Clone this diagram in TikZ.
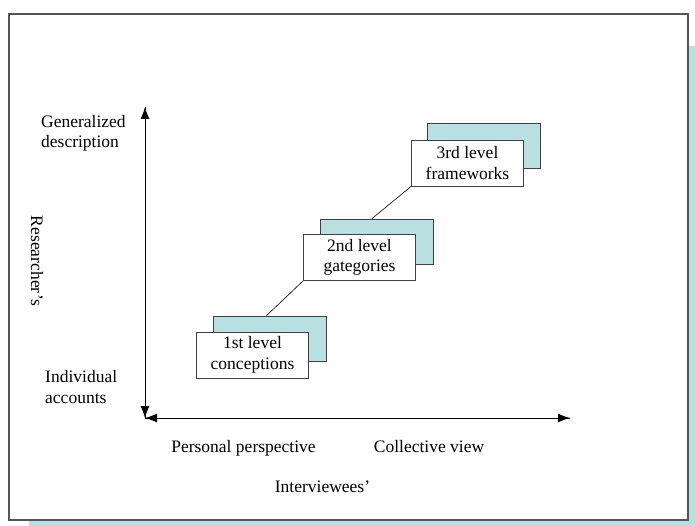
\documentclass[tikz,border=0pt]{standalone}
\usepackage{fontspec}
\setmainfont{Liberation Serif}
\usetikzlibrary{arrows.meta}
\definecolor{shadowblue}{RGB}{186,223,224}
\definecolor{framegray}{RGB}{85,85,85}
\definecolor{boxline}{RGB}{64,64,64}
\begin{document}
\begin{tikzpicture}[x=1pt,y=-1pt,
  txt/.style={font=\fontsize{17.5}{20.5}\selectfont},
  lbl/.style={txt, inner sep=0pt},
  front/.style={txt, draw=boxline, line width=0.8pt, fill=white, minimum width=112pt,
    minimum height=46pt, inner sep=0pt, align=center},
  back/.style={draw=boxline, line width=0.8pt, fill=shadowblue, minimum width=113pt,
    minimum height=45pt, inner sep=0pt},
  axis/.style={line width=0.9pt, -{Latex[length=12pt,width=9pt]}},
  link/.style={line width=0.6pt, draw=black}]
\useasboundingbox (0,0) rectangle (695,526);
% page frame with its drop shadow
\fill[shadowblue] (29,46) rectangle (695,526);
\draw[framegray, line width=1.5pt, fill=white] (9,14) rectangle (688,520);

% axes, each with a head at both ends
\coordinate (origin) at (145,418);
\coordinate (ytop) at (145,107);
\coordinate (xend) at (570,418);
\draw[axis] (ytop) -- (origin);
\draw[axis] (xend) -- (origin);
\draw[axis] (origin) -- (ytop);
\draw[axis] (origin) -- (xend);

% axis labels
\node[lbl, anchor=base west] (gen1) at (41,128) {Generalized};
\node[lbl, anchor=base west] (gen2) at (41,148) {description};
\node[lbl, anchor=base west] (ind1) at (45,382) {Individual};
\node[lbl, anchor=base west] (ind2) at (45,403) {accounts};
\node[lbl, rotate=-90] (res) at (37,261) {Researcher's};
\node[lbl, anchor=base] (pers) at (243.5,452) {Personal perspective};
\node[lbl, anchor=base] (coll) at (429,452) {Collective view};
\node[lbl, anchor=base] (intv) at (322.5,492) {Interviewees'};

% stacked level boxes
\node[back] (s1) at (269.5,338.5) {};
\node[front] (b1) at (252.5,355) {1st level\\conceptions};
\node[back] (s2) at (377,241.5) {};
\node[front] (b2) at (359.5,257.5) {2nd level\\gategories};
\node[back] (s3) at (484,146) {};
\node[front] (b3) at (467.5,163) {3rd level\\frameworks};

% links between levels
\draw[link] ([xshift=-3pt]s1.north) -- (b2.south west);
\draw[link] ([xshift=-5pt]s2.north) -- (b3.south west);
\end{tikzpicture}
\end{document}
